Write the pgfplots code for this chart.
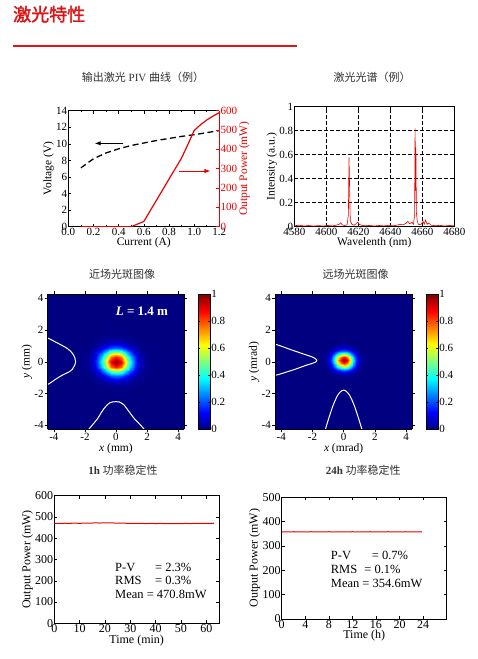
\documentclass[border=0pt]{standalone}
\usepackage{fontspec}
\setmainfont{Liberation Serif}
\newfontfamily\cjk{Noto Sans CJK SC}
\newfontfamily\cjkb[FakeBold=2]{Noto Sans CJK SC}
\usepackage{pgfplots}
\pgfplotsset{compat=1.18}
\usetikzlibrary{arrows.meta}
\definecolor{hred}{RGB}{225,20,20}
\definecolor{pred}{RGB}{235,0,0}
\definecolor{ttl}{RGB}{50,50,50}
\pgfplotsset{
  myax/.style={
    scale only axis,
    /pgf/number format/assume math mode=true,
    /pgf/number format/1000 sep={},
    tick label style={font=\fontsize{11}{12}\selectfont, inner sep=1pt},
    label style={font=\fontsize{11.5}{12}\selectfont, inner sep=1pt},
    tick style={black, line width=0.5pt},
    major tick length=3pt,
    minor tick length=1.5pt,
    axis line style={line width=0.7pt},
    tick align=inside,
  },
  heat/.style={
    myax, view={0}{90}, tick align=outside, axis on top,
    xmin=-4.4, xmax=4.4, ymin=-4.25, ymax=4.25,
    xtick={-4,-2,0,2,4}, ytick={-4,-2,0,2,4},
    colormap/jet, point meta min=0, point meta max=1,
    colorbar,
    colorbar style={at={(parent axis.north east)}, anchor=north west, xshift=5.6pt,
      width=11.7pt, scale only axis, ytick={0,0.2,0.4,0.6,0.8,1}, tick align=inside,
      major tick length=2pt, tick style={black},
      /pgf/number format/assume math mode=true,
      yticklabel style={font=\fontsize{11}{12}\selectfont, inner sep=1pt}},
  }
}
\begin{document}
\begin{tikzpicture}
\begin{scope}[x=1pt,y=1pt]
\path[use as bounding box] (0,0) rectangle (477,659);
\fill[white] (0,0) rectangle (477,659);
\node[anchor=base west, inner sep=0, text=hred, font=\cjkb\fontsize{18}{18}\selectfont] at (13,638) {激光特性};
\draw[hred, line width=2pt] (13,612.5) -- (297,612.5);
\node[text=ttl, font=\fontsize{11}{12}\selectfont] at (143,582) {{\cjk 输出激光} PIV {\cjk 曲线（例）}};
\node[text=ttl, font=\cjk\fontsize{11}{12}\selectfont] at (372,582) {激光光谱（例）};
\node[text=ttl, font=\cjk\fontsize{11}{12}\selectfont] at (122,385) {近场光斑图像};
\node[text=ttl, font=\cjk\fontsize{11}{12}\selectfont] at (355.7,385) {远场光斑图像};
\node[text=ttl, font=\fontsize{11}{12}\selectfont] at (123,189) {\textbf{1h} {\cjk 功率稳定性}};
\node[text=ttl, font=\fontsize{11}{12}\selectfont] at (363.3,189) {\textbf{24h} {\cjk 功率稳定性}};
\end{scope}

% ---------- PIV ----------
\begin{axis}[myax, at={(68.3pt,548.3pt)}, anchor=north west, width=151pt, height=116pt,
  xmin=0, xmax=1.2, ymin=0, ymax=14,
  xtick={0,0.2,0.4,0.6,0.8,1.0,1.2}, ytick={0,2,4,6,8,10,12,14},
  minor x tick num=1,
  xticklabel style={/pgf/number format/fixed, /pgf/number format/fixed zerofill, /pgf/number format/precision=1},
  axis y line*=left,
  xlabel={Current (A)}, ylabel={Voltage (V)}]
\addplot[black, line width=1.3pt, dash pattern=on 6pt off 3.5pt] coordinates {
 (0.1,7.1) (0.2,8.2) (0.3,8.9) (0.4,9.4) (0.5,9.8) (0.6,10.1) (0.7,10.4)
 (0.8,10.65) (0.9,10.9) (1.0,11.1) (1.1,11.35) (1.2,11.6)};
\draw[black, line width=1pt, -{Latex[length=6pt,width=4.5pt]}] (axis cs:0.437,10.06) -- (axis cs:0.21,10.06);
\end{axis}
\begin{axis}[myax, at={(68.3pt,548.3pt)}, anchor=north west, width=151pt, height=116pt,
  xmin=0, xmax=1.2, ymin=0, ymax=600, ytick={0,100,200,300,400,500,600},
  axis y line*=right, axis x line=none,
  y axis line style={pred}, ytick style={pred}, yticklabel style={text=pred},
  ylabel={Output Power (mW)}, ylabel style={text=pred}]
\addplot[pred, line width=1.2pt] coordinates {
 (0.1,0) (0.5,0) (0.6,27) (0.7,136) (0.8,246) (0.9,355) (0.95,425) (1.0,497)
 (1.05,527) (1.1,552) (1.15,572) (1.2,590)};
\draw[pred, line width=1pt, -{Latex[length=6pt,width=4.5pt]}] (axis cs:0.88,288) -- (axis cs:1.13,288);
\end{axis}

% ---------- Spectrum ----------
\begin{axis}[myax, at={(294.3pt,552.3pt)}, anchor=north west, width=160pt, height=120pt,
  xmin=4580, xmax=4680, ymin=0, ymax=1,
  xtick={4580,4600,4620,4640,4660,4680}, ytick={0,0.2,0.4,0.6,0.8,1},
  scaled x ticks=false, grid=major,
  grid style={black, dash pattern=on 3.5pt off 2.5pt, line width=0.7pt},
  xlabel={Wavelenth (nm)}, ylabel={Intensity (a.u.)}]
\addplot[pred, line width=0.6pt] coordinates {
 (4580,0.008) (4583,0.012) (4586,0.006) (4589,0.01) (4592,0.005) (4595,0.009)
 (4598,0.006) (4601,0.01) (4604,0.007) (4606,0.012) (4608,0.02) (4609,0.032)
 (4610,0.015) (4611.5,0.01) (4613,0.015) (4613.8,0.1) (4614.2,0.578) (4614.6,0.3)
 (4615,0.05) (4616,0.02) (4617.5,0.012) (4619,0.03) (4619.8,0.038) (4620.5,0.02)
 (4622,0.012) (4624,0.008) (4627,0.01) (4630,0.006) (4633,0.01) (4636,0.007)
 (4639,0.011) (4642,0.008) (4644,0.012) (4646,0.02) (4648,0.015) (4650,0.03)
 (4651,0.045) (4652,0.025) (4653.5,0.035) (4654.5,0.02) (4655.2,0.1) (4655.5,0.82)
 (4655.8,0.3) (4656.0,0.66) (4656.3,0.12) (4656.8,0.05) (4657.5,0.02) (4659,0.015)
 (4660.5,0.045) (4661.2,0.02) (4662,0.055) (4663,0.02) (4664,0.03) (4665.5,0.012)
 (4668,0.008) (4671,0.011) (4674,0.006) (4677,0.01) (4680,0.007)};
\end{axis}

% ---------- Near field ----------
\begin{axis}[heat, at={(47.7pt,364.7pt)}, anchor=north west, width=136.6pt, height=135pt,
  xlabel={\textit{x} (mm)}, ylabel={\textit{y} (mm)}]
\addplot3[surf, shader=interp, mesh/cols=17, point meta=z] table[row sep=\\] {
x y z\\
-4.4 -4.25 0\\ -2.1 -4.25 0\\ -1.8 -4.25 0\\ -1.5 -4.25 0\\ -1.2 -4.25 0\\ -0.9 -4.25 0\\ -0.6 -4.25 0\\ -0.3 -4.25 0\\ 0 -4.25 0\\ 0.3 -4.25 0\\ 0.6 -4.25 0\\ 0.9 -4.25 0\\ 1.2 -4.25 0\\ 1.5 -4.25 0\\ 1.8 -4.25 0\\ 2.1 -4.25 0\\ 4.4 -4.25 0\\
-4.4 -1.8 0\\ -2.1 -1.8 0\\ -1.8 -1.8 0\\ -1.5 -1.8 0\\ -1.2 -1.8 0\\ -0.9 -1.8 0.001\\ -0.6 -1.8 0.002\\ -0.3 -1.8 0.003\\ 0 -1.8 0.003\\ 0.3 -1.8 0.003\\ 0.6 -1.8 0.002\\ 0.9 -1.8 0.001\\ 1.2 -1.8 0\\ 1.5 -1.8 0\\ 1.8 -1.8 0\\ 2.1 -1.8 0\\ 4.4 -1.8 0\\
-4.4 -1.5 0\\ -2.1 -1.5 0\\ -1.8 -1.5 0\\ -1.5 -1.5 0.001\\ -1.2 -1.5 0.003\\ -0.9 -1.5 0.007\\ -0.6 -1.5 0.012\\ -0.3 -1.5 0.016\\ 0 -1.5 0.017\\ 0.3 -1.5 0.016\\ 0.6 -1.5 0.012\\ 0.9 -1.5 0.007\\ 1.2 -1.5 0.003\\ 1.5 -1.5 0.001\\ 1.8 -1.5 0\\ 2.1 -1.5 0\\ 4.4 -1.5 0\\
-4.4 -1.2 0\\ -2.1 -1.2 0\\ -1.8 -1.2 0.002\\ -1.5 -1.2 0.006\\ -1.2 -1.2 0.014\\ -0.9 -1.2 0.030\\ -0.6 -1.2 0.050\\ -0.3 -1.2 0.067\\ 0 -1.2 0.075\\ 0.3 -1.2 0.067\\ 0.6 -1.2 0.050\\ 0.9 -1.2 0.030\\ 1.2 -1.2 0.014\\ 1.5 -1.2 0.006\\ 1.8 -1.2 0.002\\ 2.1 -1.2 0\\ 4.4 -1.2 0\\
-4.4 -0.9 0\\ -2.1 -0.9 0.002\\ -1.8 -0.9 0.006\\ -1.5 -0.9 0.018\\ -1.2 -0.9 0.045\\ -0.9 -0.9 0.092\\ -0.6 -0.9 0.154\\ -0.3 -0.9 0.209\\ 0 -0.9 0.232\\ 0.3 -0.9 0.209\\ 0.6 -0.9 0.154\\ 0.9 -0.9 0.092\\ 1.2 -0.9 0.045\\ 1.5 -0.9 0.018\\ 1.8 -0.9 0.006\\ 2.1 -0.9 0.002\\ 4.4 -0.9 0\\
-4.4 -0.6 0\\ -2.1 -0.6 0.003\\ -1.8 -0.6 0.013\\ -1.5 -0.6 0.040\\ -1.2 -0.6 0.101\\ -0.9 -0.6 0.208\\ -0.6 -0.6 0.347\\ -0.3 -0.6 0.472\\ 0 -0.6 0.523\\ 0.3 -0.6 0.472\\ 0.6 -0.6 0.347\\ 0.9 -0.6 0.208\\ 1.2 -0.6 0.101\\ 1.5 -0.6 0.040\\ 1.8 -0.6 0.013\\ 2.1 -0.6 0.003\\ 4.4 -0.6 0\\
-4.4 -0.3 0\\ -2.1 -0.3 0.006\\ -1.8 -0.3 0.021\\ -1.5 -0.3 0.065\\ -1.2 -0.3 0.164\\ -0.9 -0.3 0.337\\ -0.6 -0.3 0.564\\ -0.3 -0.3 0.767\\ 0 -0.3 0.850\\ 0.3 -0.3 0.767\\ 0.6 -0.3 0.564\\ 0.9 -0.3 0.337\\ 1.2 -0.3 0.164\\ 1.5 -0.3 0.065\\ 1.8 -0.3 0.021\\ 2.1 -0.3 0.006\\ 4.4 -0.3 0\\
-4.4 0 0\\ -2.1 0 0.007\\ -1.8 0 0.025\\ -1.5 0 0.077\\ -1.2 0 0.193\\ -0.9 0 0.397\\ -0.6 0 0.663\\ -0.3 0 0.902\\ 0 0 1\\ 0.3 0 0.902\\ 0.6 0 0.663\\ 0.9 0 0.397\\ 1.2 0 0.193\\ 1.5 0 0.077\\ 1.8 0 0.025\\ 2.1 0 0.007\\ 4.4 0 0\\
-4.4 0.3 0\\ -2.1 0.3 0.006\\ -1.8 0.3 0.021\\ -1.5 0.3 0.065\\ -1.2 0.3 0.164\\ -0.9 0.3 0.337\\ -0.6 0.3 0.564\\ -0.3 0.3 0.767\\ 0 0.3 0.850\\ 0.3 0.3 0.767\\ 0.6 0.3 0.564\\ 0.9 0.3 0.337\\ 1.2 0.3 0.164\\ 1.5 0.3 0.065\\ 1.8 0.3 0.021\\ 2.1 0.3 0.006\\ 4.4 0.3 0\\
-4.4 0.6 0\\ -2.1 0.6 0.003\\ -1.8 0.6 0.013\\ -1.5 0.6 0.040\\ -1.2 0.6 0.101\\ -0.9 0.6 0.208\\ -0.6 0.6 0.347\\ -0.3 0.6 0.472\\ 0 0.6 0.523\\ 0.3 0.6 0.472\\ 0.6 0.6 0.347\\ 0.9 0.6 0.208\\ 1.2 0.6 0.101\\ 1.5 0.6 0.040\\ 1.8 0.6 0.013\\ 2.1 0.6 0.003\\ 4.4 0.6 0\\
-4.4 0.9 0\\ -2.1 0.9 0.002\\ -1.8 0.9 0.006\\ -1.5 0.9 0.018\\ -1.2 0.9 0.045\\ -0.9 0.9 0.092\\ -0.6 0.9 0.154\\ -0.3 0.9 0.209\\ 0 0.9 0.232\\ 0.3 0.9 0.209\\ 0.6 0.9 0.154\\ 0.9 0.9 0.092\\ 1.2 0.9 0.045\\ 1.5 0.9 0.018\\ 1.8 0.9 0.006\\ 2.1 0.9 0.002\\ 4.4 0.9 0\\
-4.4 1.2 0\\ -2.1 1.2 0\\ -1.8 1.2 0.002\\ -1.5 1.2 0.006\\ -1.2 1.2 0.014\\ -0.9 1.2 0.030\\ -0.6 1.2 0.050\\ -0.3 1.2 0.067\\ 0 1.2 0.075\\ 0.3 1.2 0.067\\ 0.6 1.2 0.050\\ 0.9 1.2 0.030\\ 1.2 1.2 0.014\\ 1.5 1.2 0.006\\ 1.8 1.2 0.002\\ 2.1 1.2 0\\ 4.4 1.2 0\\
-4.4 1.5 0\\ -2.1 1.5 0\\ -1.8 1.5 0\\ -1.5 1.5 0.001\\ -1.2 1.5 0.003\\ -0.9 1.5 0.007\\ -0.6 1.5 0.012\\ -0.3 1.5 0.016\\ 0 1.5 0.017\\ 0.3 1.5 0.016\\ 0.6 1.5 0.012\\ 0.9 1.5 0.007\\ 1.2 1.5 0.003\\ 1.5 1.5 0.001\\ 1.8 1.5 0\\ 2.1 1.5 0\\ 4.4 1.5 0\\
-4.4 1.8 0\\ -2.1 1.8 0\\ -1.8 1.8 0\\ -1.5 1.8 0\\ -1.2 1.8 0\\ -0.9 1.8 0.001\\ -0.6 1.8 0.002\\ -0.3 1.8 0.003\\ 0 1.8 0.003\\ 0.3 1.8 0.003\\ 0.6 1.8 0.002\\ 0.9 1.8 0.001\\ 1.2 1.8 0\\ 1.5 1.8 0\\ 1.8 1.8 0\\ 2.1 1.8 0\\ 4.4 1.8 0\\
-4.4 4.25 0\\ -2.1 4.25 0\\ -1.8 4.25 0\\ -1.5 4.25 0\\ -1.2 4.25 0\\ -0.9 4.25 0\\ -0.6 4.25 0\\ -0.3 4.25 0\\ 0 4.25 0\\ 0.3 4.25 0\\ 0.6 4.25 0\\ 0.9 4.25 0\\ 1.2 4.25 0\\ 1.5 4.25 0\\ 1.8 4.25 0\\ 2.1 4.25 0\\ 4.4 4.25 0\\
};
\addplot3[white, line width=1pt, smooth] coordinates {
 (-4.4,1.5,0) (-3.9,1.25,0) (-3.57,1.08,0) (-3.2,0.88,0) (-2.93,0.67,0) (-2.75,0.45,0)
 (-2.65,0.25,0) (-2.6,0,0) (-2.68,-0.25,0) (-2.82,-0.48,0) (-3.05,-0.65,0) (-3.36,-0.79,0)
 (-3.65,-0.95,0) (-3.89,-1.1,0) (-4.26,-1.35,0) (-4.4,-1.42,0)};
\addplot3[white, line width=1pt, smooth] coordinates {
 (-1.75,-4.25,0) (-1.5,-3.95,0) (-1.2,-3.6,0) (-0.95,-3.2,0) (-0.8,-2.98,0) (-0.6,-2.75,0)
 (-0.4,-2.58,0) (-0.2,-2.52,0) (0.2,-2.52,0) (0.35,-2.6,0) (0.5,-2.7,0) (0.8,-3.08,0)
 (1.0,-3.35,0) (1.2,-3.6,0) (1.5,-3.9,0) (1.82,-4.25,0)};
\node[text=white, font=\bfseries\fontsize{13}{14}\selectfont] at (axis cs:1.67,3.17,0) {\textit{L} = 1.4 m};
\end{axis}

% ---------- Far field ----------
\begin{axis}[heat, at={(275pt,364.7pt)}, anchor=north west, width=137.3pt, height=135pt,
  xlabel={\textit{x} (mrad)}, ylabel={\textit{y} (mrad)}]
\addplot3[surf, shader=interp, mesh/cols=17, point meta=z] table[row sep=\\] {
x y z\\
-4.4 -4.25 0\\ -1.4 -4.25 0\\ -1.2 -4.25 0\\ -1.0 -4.25 0\\ -0.8 -4.25 0\\ -0.6 -4.25 0\\ -0.4 -4.25 0\\ -0.2 -4.25 0\\ 0 -4.25 0\\ 0.2 -4.25 0\\ 0.4 -4.25 0\\ 0.6 -4.25 0\\ 0.8 -4.25 0\\ 1.0 -4.25 0\\ 1.2 -4.25 0\\ 1.4 -4.25 0\\ 4.4 -4.25 0\\
-4.4 -1.1 0\\ -1.4 -1.1 0\\ -1.2 -1.1 0\\ -1.0 -1.1 0\\ -0.8 -1.1 0\\ -0.6 -1.1 0\\ -0.4 -1.1 0\\ -0.2 -1.1 0\\ 0 -1.1 0\\ 0.2 -1.1 0\\ 0.4 -1.1 0\\ 0.6 -1.1 0\\ 0.8 -1.1 0\\ 1.0 -1.1 0\\ 1.2 -1.1 0\\ 1.4 -1.1 0\\ 4.4 -1.1 0\\
-4.4 -0.9 0\\ -1.4 -0.9 0\\ -1.2 -0.9 0\\ -1.0 -0.9 0.001\\ -0.8 -0.9 0.003\\ -0.6 -0.9 0.007\\ -0.4 -0.9 0.012\\ -0.2 -0.9 0.016\\ 0 -0.9 0.018\\ 0.2 -0.9 0.016\\ 0.4 -0.9 0.012\\ 0.6 -0.9 0.007\\ 0.8 -0.9 0.003\\ 1.0 -0.9 0.001\\ 1.2 -0.9 0\\ 1.4 -0.9 0\\ 4.4 -0.9 0\\
-4.4 -0.7 0\\ -1.4 -0.7 0\\ -1.2 -0.7 0.002\\ -1.0 -0.7 0.005\\ -0.8 -0.7 0.014\\ -0.6 -0.7 0.030\\ -0.4 -0.7 0.050\\ -0.2 -0.7 0.069\\ 0 -0.7 0.077\\ 0.2 -0.7 0.069\\ 0.4 -0.7 0.050\\ 0.6 -0.7 0.030\\ 0.8 -0.7 0.014\\ 1.0 -0.7 0.005\\ 1.2 -0.7 0.002\\ 1.4 -0.7 0\\ 4.4 -0.7 0\\
-4.4 -0.5 0\\ -1.4 -0.5 0.001\\ -1.2 -0.5 0.005\\ -1.0 -0.5 0.017\\ -0.8 -0.5 0.043\\ -0.6 -0.5 0.091\\ -0.4 -0.5 0.155\\ -0.2 -0.5 0.213\\ 0 -0.5 0.237\\ 0.2 -0.5 0.213\\ 0.4 -0.5 0.155\\ 0.6 -0.5 0.091\\ 0.8 -0.5 0.043\\ 1.0 -0.5 0.017\\ 1.2 -0.5 0.005\\ 1.4 -0.5 0.001\\ 4.4 -0.5 0\\
-4.4 -0.3 0\\ -1.4 -0.3 0.003\\ -1.2 -0.3 0.012\\ -1.0 -0.3 0.037\\ -0.8 -0.3 0.096\\ -0.6 -0.3 0.202\\ -0.4 -0.3 0.344\\ -0.2 -0.3 0.474\\ 0 -0.3 0.527\\ 0.2 -0.3 0.474\\ 0.4 -0.3 0.344\\ 0.6 -0.3 0.202\\ 0.8 -0.3 0.096\\ 1.0 -0.3 0.037\\ 1.2 -0.3 0.012\\ 1.4 -0.3 0.003\\ 4.4 -0.3 0\\
-4.4 -0.1 0\\ -1.4 -0.1 0.004\\ -1.2 -0.1 0.019\\ -1.0 -0.1 0.060\\ -0.8 -0.1 0.155\\ -0.6 -0.1 0.327\\ -0.4 -0.1 0.556\\ -0.2 -0.1 0.766\\ 0 -0.1 0.852\\ 0.2 -0.1 0.766\\ 0.4 -0.1 0.556\\ 0.6 -0.1 0.327\\ 0.8 -0.1 0.155\\ 1.0 -0.1 0.060\\ 1.2 -0.1 0.019\\ 1.4 -0.1 0.004\\ 4.4 -0.1 0\\
-4.4 0.1 0\\ -1.4 0.1 0.005\\ -1.2 0.1 0.022\\ -1.0 0.1 0.070\\ -0.8 0.1 0.182\\ -0.6 0.1 0.384\\ -0.4 0.1 0.653\\ -0.2 0.1 0.899\\ 0 0.1 1\\ 0.2 0.1 0.899\\ 0.4 0.1 0.653\\ 0.6 0.1 0.384\\ 0.8 0.1 0.182\\ 1.0 0.1 0.070\\ 1.2 0.1 0.022\\ 1.4 0.1 0.005\\ 4.4 0.1 0\\
-4.4 0.3 0\\ -1.4 0.3 0.004\\ -1.2 0.3 0.019\\ -1.0 0.3 0.060\\ -0.8 0.3 0.155\\ -0.6 0.3 0.327\\ -0.4 0.3 0.556\\ -0.2 0.3 0.766\\ 0 0.3 0.852\\ 0.2 0.3 0.766\\ 0.4 0.3 0.556\\ 0.6 0.3 0.327\\ 0.8 0.3 0.155\\ 1.0 0.3 0.060\\ 1.2 0.3 0.019\\ 1.4 0.3 0.004\\ 4.4 0.3 0\\
-4.4 0.5 0\\ -1.4 0.5 0.003\\ -1.2 0.5 0.012\\ -1.0 0.5 0.037\\ -0.8 0.5 0.096\\ -0.6 0.5 0.202\\ -0.4 0.5 0.344\\ -0.2 0.5 0.474\\ 0 0.5 0.527\\ 0.2 0.5 0.474\\ 0.4 0.5 0.344\\ 0.6 0.5 0.202\\ 0.8 0.5 0.096\\ 1.0 0.5 0.037\\ 1.2 0.5 0.012\\ 1.4 0.5 0.003\\ 4.4 0.5 0\\
-4.4 0.7 0\\ -1.4 0.7 0.001\\ -1.2 0.7 0.005\\ -1.0 0.7 0.017\\ -0.8 0.7 0.043\\ -0.6 0.7 0.091\\ -0.4 0.7 0.155\\ -0.2 0.7 0.213\\ 0 0.7 0.237\\ 0.2 0.7 0.213\\ 0.4 0.7 0.155\\ 0.6 0.7 0.091\\ 0.8 0.7 0.043\\ 1.0 0.7 0.017\\ 1.2 0.7 0.005\\ 1.4 0.7 0.001\\ 4.4 0.7 0\\
-4.4 0.9 0\\ -1.4 0.9 0\\ -1.2 0.9 0.002\\ -1.0 0.9 0.005\\ -0.8 0.9 0.014\\ -0.6 0.9 0.030\\ -0.4 0.9 0.050\\ -0.2 0.9 0.069\\ 0 0.9 0.077\\ 0.2 0.9 0.069\\ 0.4 0.9 0.050\\ 0.6 0.9 0.030\\ 0.8 0.9 0.014\\ 1.0 0.9 0.005\\ 1.2 0.9 0.002\\ 1.4 0.9 0\\ 4.4 0.9 0\\
-4.4 1.1 0\\ -1.4 1.1 0\\ -1.2 1.1 0\\ -1.0 1.1 0.001\\ -0.8 1.1 0.003\\ -0.6 1.1 0.007\\ -0.4 1.1 0.012\\ -0.2 1.1 0.016\\ 0 1.1 0.018\\ 0.2 1.1 0.016\\ 0.4 1.1 0.012\\ 0.6 1.1 0.007\\ 0.8 1.1 0.003\\ 1.0 1.1 0.001\\ 1.2 1.1 0\\ 1.4 1.1 0\\ 4.4 1.1 0\\
-4.4 1.3 0\\ -1.4 1.3 0\\ -1.2 1.3 0\\ -1.0 1.3 0\\ -0.8 1.3 0\\ -0.6 1.3 0\\ -0.4 1.3 0\\ -0.2 1.3 0\\ 0 1.3 0\\ 0.2 1.3 0\\ 0.4 1.3 0\\ 0.6 1.3 0\\ 0.8 1.3 0\\ 1.0 1.3 0\\ 1.2 1.3 0\\ 1.4 1.3 0\\ 4.4 1.3 0\\
-4.4 4.25 0\\ -1.4 4.25 0\\ -1.2 4.25 0\\ -1.0 4.25 0\\ -0.8 4.25 0\\ -0.6 4.25 0\\ -0.4 4.25 0\\ -0.2 4.25 0\\ 0 4.25 0\\ 0.2 4.25 0\\ 0.4 4.25 0\\ 0.6 4.25 0\\ 0.8 4.25 0\\ 1.0 4.25 0\\ 1.2 4.25 0\\ 1.4 4.25 0\\ 4.4 4.25 0\\
};
\addplot3[white, line width=1pt, smooth] coordinates {
 (-4.4,1.12,0) (-3.9,0.95,0) (-3.4,0.77,0) (-2.95,0.62,0) (-2.55,0.48,0) (-2.2,0.37,0)
 (-1.95,0.28,0) (-1.8,0.19,0) (-1.72,0.1,0) (-1.76,0.01,0) (-1.95,-0.08,0) (-2.35,-0.2,0)
 (-2.77,-0.35,0) (-3.2,-0.5,0) (-3.62,-0.63,0) (-4.0,-0.75,0) (-4.4,-0.86,0)};
\addplot3[white, line width=1pt, smooth] coordinates {
 (-1.17,-4.25,0) (-1.0,-3.7,0) (-0.85,-3.24,0) (-0.7,-2.8,0) (-0.53,-2.4,0) (-0.38,-2.1,0)
 (-0.26,-1.94,0) (-0.12,-1.82,0) (0,-1.78,0) (0.12,-1.82,0) (0.26,-1.94,0) (0.38,-2.1,0)
 (0.53,-2.4,0) (0.7,-2.8,0) (0.85,-3.24,0) (1.0,-3.7,0) (1.17,-4.25,0)};
\end{axis}

% ---------- 1h stability ----------
\begin{axis}[myax, at={(54.3pt,163.3pt)}, anchor=north west, width=164.7pt, height=127.6pt,
  xmin=0, xmax=65, ymin=0, ymax=600,
  xtick={0,10,20,30,40,50,60}, ytick={0,100,200,300,400,500,600},
  tick label style={font=\fontsize{12}{13}\selectfont},
  label style={font=\fontsize{12}{13}\selectfont},
  xlabel={Time (min)}, ylabel={Output Power (mW)}]
\addplot[pred, line width=1pt] coordinates {
 (0,470) (2,469.5) (4,470.5) (6,470) (8,471) (10,470) (12,471.5) (14,471) (16,472)
 (18,471.5) (20,472.5) (22,472) (24,471.5) (26,471) (28,470.5) (30,470) (32,469.5)
 (34,470) (36,469) (38,469.5) (40,469) (42,469.5) (44,468.5) (46,469) (48,468.5)
 (50,469) (52,469.5) (54,469) (56,470) (58,469.5) (60,470) (62,470) (63,470.5)};
\end{axis}

% ---------- 24h stability ----------
\begin{axis}[myax, at={(281.7pt,161.7pt)}, anchor=north west, width=165pt, height=121.7pt,
  xmin=0, xmax=28, ymin=0, ymax=500,
  xtick={0,4,8,12,16,20,24}, ytick={0,100,200,300,400,500},
  tick label style={font=\fontsize{12}{13}\selectfont},
  label style={font=\fontsize{12}{13}\selectfont},
  xlabel={Time (h)}, ylabel={Output Power (mW)}]
\addplot[pred, line width=1pt] coordinates {
 (0,358) (1,357.5) (2,358.5) (3,358) (4,358) (5,358.5) (6,358) (7,358) (8,358.5)
 (9,358) (10,357.5) (11,358) (12,358.5) (13,358) (14,358) (15,358.5) (16,358)
 (17,358) (18,358.5) (19,358) (20,358) (21,358.5) (22,358) (23,358) (23.8,358.5)};
\end{axis}

\begin{scope}[x=1pt,y=1pt, font=\fontsize{12.5}{13}\selectfont]
\node[anchor=base west, inner sep=0] at (115,87.5) {\makebox[40pt][l]{P-V}= 2.3\%};
\node[anchor=base west, inner sep=0] at (115,74.1) {\makebox[40pt][l]{RMS}= 0.3\%};
\node[anchor=base west, inner sep=0] at (115,60.5) {Mean = 470.8mW};
\node[anchor=base west, inner sep=0] at (330.7,99.8) {\makebox[41pt][l]{P-V}= 0.7\%};
\node[anchor=base west, inner sep=0] at (330.7,85.5) {\makebox[33.5pt][l]{RMS}= 0.1\%};
\node[anchor=base west, inner sep=0] at (330.7,71.5) {Mean = 354.6mW};
\end{scope}
\end{tikzpicture}
\end{document}
